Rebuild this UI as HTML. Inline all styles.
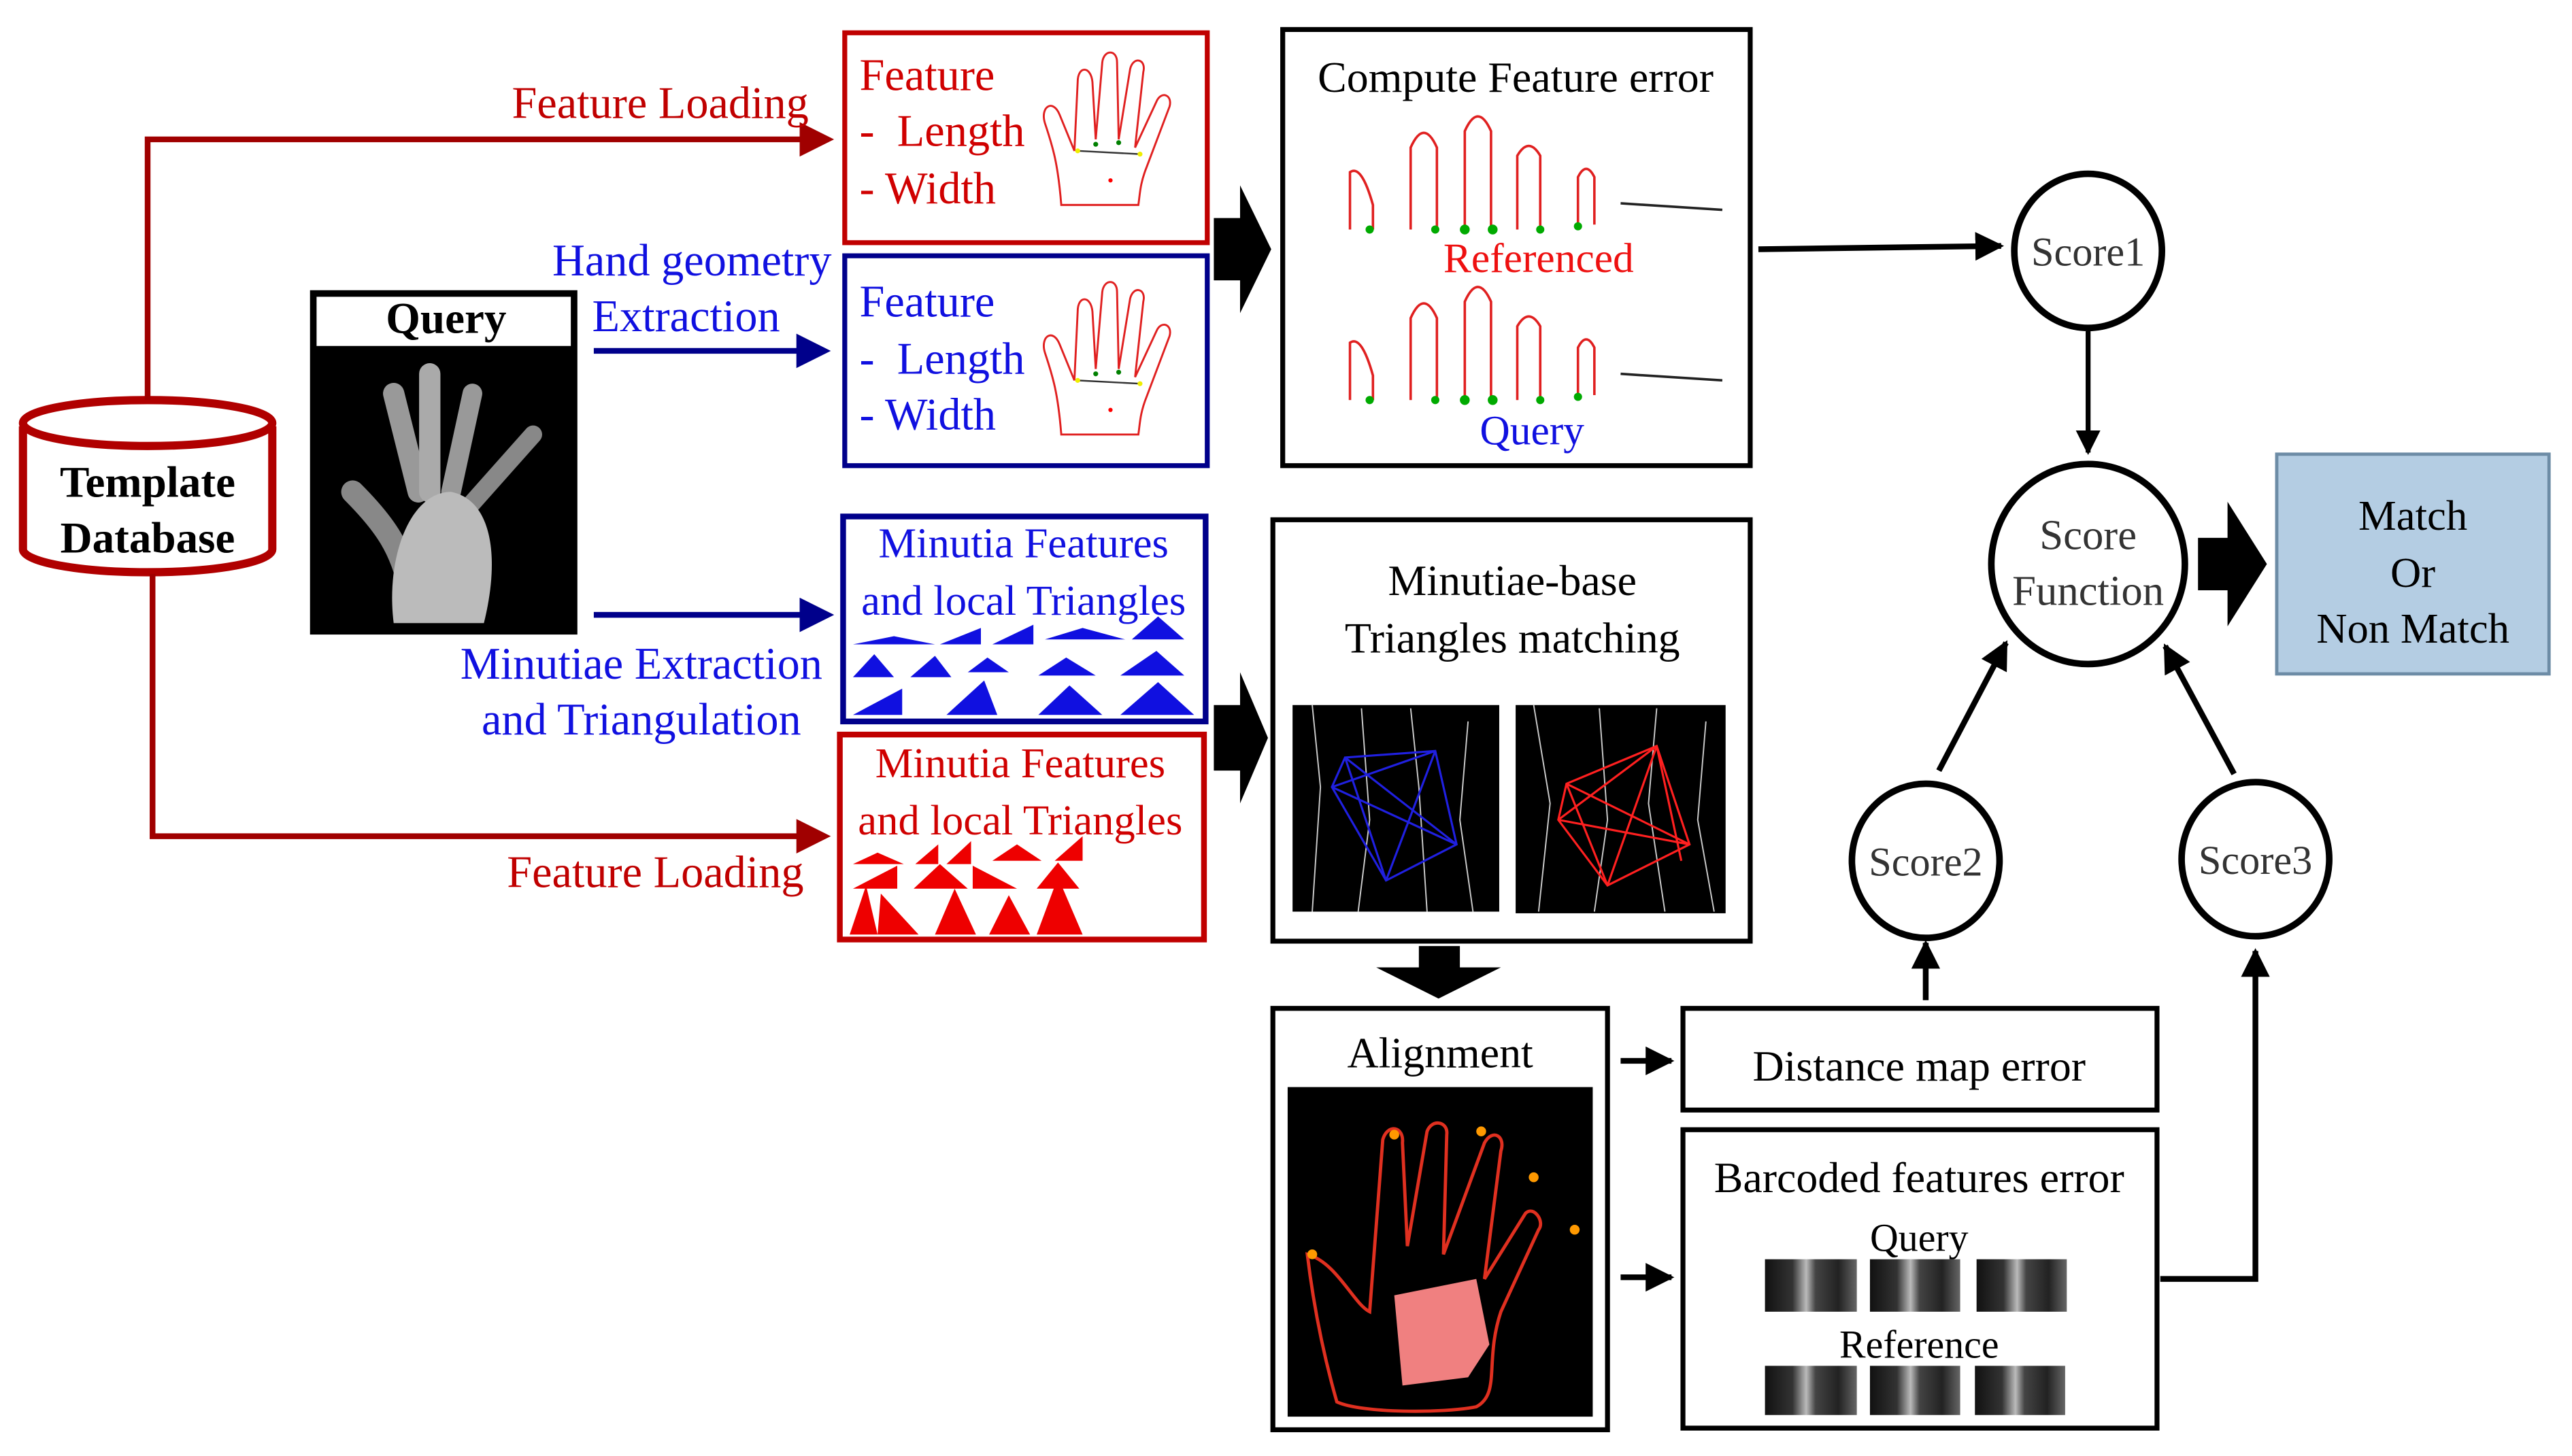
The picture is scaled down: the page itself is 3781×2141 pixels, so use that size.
<!DOCTYPE html>
<html><head><meta charset="utf-8"><style>
html,body{margin:0;padding:0;background:#fff;}
svg{display:block;}
text{font-family:"Liberation Serif",serif;}
</style></head><body>
<svg width="3781" height="2141" viewBox="0 0 1568 888" preserveAspectRatio="none" xmlns="http://www.w3.org/2000/svg">
<defs>
<marker id="ar" markerWidth="6" markerHeight="6" refX="5" refY="3" orient="auto" markerUnits="strokeWidth"><path d="M0,0 L6,3 L0,6 z" fill="#a00000"/></marker>
<marker id="ab" markerWidth="6" markerHeight="6" refX="5" refY="3" orient="auto" markerUnits="strokeWidth"><path d="M0,0 L6,3 L0,6 z" fill="#00008b"/></marker>
<marker id="ak" markerWidth="5" markerHeight="5" refX="4.5" refY="2.5" orient="auto" markerUnits="strokeWidth"><path d="M0,0 L5,2.5 L0,5 z" fill="#000"/></marker>
<g id="hand">
<path d="M10,95 C8,70 5,60 0,45 C-3,35 5,30 9,40 L18,62 L20,20 C20,10 28,10 29,20 L31,55 L35,8 C36,0 44,0 44,8 L45,55 L52,12 C54,4 62,6 60,14 L55,60 L68,32 C71,25 78,28 76,35 L62,72 C58,82 58,88 57,95 Z" fill="none" stroke="#e02020" stroke-width="1.2"/>
<path d="M20,62 L58,64" stroke="#333" stroke-width="1"/>
<circle cx="31" cy="58" r="1.5" fill="green"/><circle cx="45" cy="57" r="1.5" fill="green"/><circle cx="20" cy="62" r="1.5" fill="#ee0"/><circle cx="58" cy="64" r="1.5" fill="#ee0"/>
<circle cx="40" cy="80" r="1.3" fill="red"/>
</g>
</defs>

<path d="M14,260 L14,335 A76,14 0 0 0 166,335 L166,260" fill="#fff" stroke="#b00000" stroke-width="5"/>
<ellipse cx="90" cy="258" rx="76" ry="14" fill="#fff" stroke="#b00000" stroke-width="5"/>
<text x="90" y="303" font-size="27" font-weight="bold" text-anchor="middle">Template</text>
<text x="90" y="337" font-size="27" font-weight="bold" text-anchor="middle">Database</text>

<polyline points="90,244 90,85 505,85" fill="none" stroke="#a00000" stroke-width="3.5" marker-end="url(#ar)"/>
<text x="493" y="72" font-size="27.5" fill="#c00000" text-anchor="end">Feature Loading</text>
<polyline points="93,350 93,510 503,510" fill="none" stroke="#a00000" stroke-width="3.5" marker-end="url(#ar)"/>
<text x="490" y="541" font-size="27.5" fill="#c00000" text-anchor="end">Feature Loading</text>

<rect x="189" y="177" width="163" height="210" fill="#000"/>
<rect x="193" y="181" width="155" height="30" fill="#fff"/>
<text x="272" y="203" font-size="27" font-weight="bold" text-anchor="middle">Query</text>
<g fill="none" stroke-linecap="round">
<path d="M250,360 C245,335 235,320 215,300" stroke-width="14" stroke="#888"/>
<path d="M255,300 L240,240" stroke-width="13" stroke="#999"/>
<path d="M262,300 L262,228" stroke-width="13" stroke="#aaa"/>
<path d="M275,300 L288,240" stroke-width="12" stroke="#999"/>
<path d="M285,310 L325,265" stroke-width="11" stroke="#888"/>
<path d="M240,380 C235,340 250,300 275,300 C300,305 305,340 295,380" fill="#bbb" stroke="none"/>
</g>

<line x1="362" y1="214" x2="503" y2="214" stroke="#00008b" stroke-width="3.5" marker-end="url(#ab)"/>
<text x="507" y="168" font-size="27.5" fill="#1010e0" text-anchor="end">Hand geometry</text>
<text x="361" y="202" font-size="27.5" fill="#1010e0">Extraction</text>
<line x1="362" y1="375" x2="505" y2="375" stroke="#00008b" stroke-width="3.5" marker-end="url(#ab)"/>
<text x="391" y="414" font-size="27.5" fill="#1010e0" text-anchor="middle">Minutiae Extraction</text>
<text x="391" y="448" font-size="27.5" fill="#1010e0" text-anchor="middle">and Triangulation</text>

<rect x="515" y="20" width="221" height="128" fill="#fff" stroke="#c00000" stroke-width="3"/>
<text x="524" y="55" font-size="27.5" fill="#d00000">Feature</text>
<text x="524" y="89" font-size="27.5" fill="#d00000" xml:space="preserve">-  Length</text>
<text x="524" y="124" font-size="27.5" fill="#d00000">- Width</text>
<use href="#hand" x="637" y="30"/>
<rect x="515" y="156" width="221" height="128" fill="#fff" stroke="#00008b" stroke-width="3"/>
<text x="524" y="193" font-size="27.5" fill="#1010e0">Feature</text>
<text x="524" y="228" font-size="27.5" fill="#1010e0" xml:space="preserve">-  Length</text>
<text x="524" y="262" font-size="27.5" fill="#1010e0">- Width</text>
<use href="#hand" x="637" y="170"/>

<path d="M740,133 L756,133 L756,113 L775,152 L756,191 L756,171 L740,171 Z" fill="#000"/>
<path d="M740,430 L756,430 L756,410 L773,450 L756,490 L756,470 L740,470 Z" fill="#000"/>

<rect x="782" y="18" width="285" height="266" fill="#fff" stroke="#000" stroke-width="3"/>
<text x="924" y="56" font-size="26.5" text-anchor="middle">Compute Feature error</text>
<g fill="none" stroke="#e02020" stroke-width="1.5">
<path d="M823,140 L823,105 Q830,100 837,125 L837,140"/>
<path d="M860,140 L860,90 Q868,72 876,90 L876,140"/>
<path d="M893,140 L893,80 Q901,62 909,80 L909,140"/>
<path d="M925,140 L925,95 Q932,83 939,95 L939,140"/>
<path d="M962,137 L962,108 Q967,98 972,108 L972,137"/>
<path d="M823,244 L823,209 Q830,204 837,229 L837,244"/>
<path d="M860,244 L860,194 Q868,176 876,194 L876,244"/>
<path d="M893,244 L893,184 Q901,166 909,184 L909,244"/>
<path d="M925,244 L925,199 Q932,187 939,199 L939,244"/>
<path d="M962,241 L962,212 Q967,202 972,212 L972,241"/>
</g>
<g stroke="#222" stroke-width="1.5">
<line x1="988" y1="124" x2="1050" y2="128"/><line x1="988" y1="228" x2="1050" y2="232"/>
</g>
<g fill="#0a0">
<circle cx="835" cy="140" r="2.5"/><circle cx="875" cy="140" r="2.5"/><circle cx="893" cy="140" r="3"/><circle cx="910" cy="140" r="3"/><circle cx="939" cy="140" r="2.5"/><circle cx="962" cy="138" r="2.5"/>
<circle cx="835" cy="244" r="2.5"/><circle cx="875" cy="244" r="2.5"/><circle cx="893" cy="244" r="3"/><circle cx="910" cy="244" r="3"/><circle cx="939" cy="244" r="2.5"/><circle cx="962" cy="242" r="2.5"/>
</g>
<text x="938" y="166" font-size="25.5" fill="#ee1010" text-anchor="middle">Referenced</text>
<text x="934" y="271" font-size="25.5" fill="#1010e0" text-anchor="middle">Query</text>

<line x1="1072" y1="152" x2="1220" y2="150" stroke="#000" stroke-width="3.5" marker-end="url(#ak)"/>

<ellipse cx="1273" cy="153" rx="45" ry="47" fill="#fff" stroke="#000" stroke-width="4"/>
<text x="1273" y="162" font-size="25" fill="#333" text-anchor="middle">Score1</text>
<line x1="1273" y1="202" x2="1273" y2="276" stroke="#000" stroke-width="3" marker-end="url(#ak)"/>
<ellipse cx="1273" cy="344" rx="59" ry="61" fill="#fff" stroke="#000" stroke-width="4"/>
<text x="1273" y="335" font-size="26" fill="#333" text-anchor="middle">Score</text>
<text x="1273" y="369" font-size="26" fill="#333" text-anchor="middle">Function</text>
<path d="M1340,328 L1358,328 L1358,306 L1382,344 L1358,382 L1358,360 L1340,360 Z" fill="#000"/>
<rect x="1388" y="277" width="166" height="134" fill="#b4cde3" stroke="#6d8ca6" stroke-width="2"/>
<text x="1471" y="323" font-size="26" text-anchor="middle">Match</text>
<text x="1471" y="358" font-size="26" text-anchor="middle">Or</text>
<text x="1471" y="392" font-size="26" text-anchor="middle">Non Match</text>

<ellipse cx="1174" cy="525" rx="45" ry="47" fill="#fff" stroke="#000" stroke-width="4"/>
<text x="1174" y="534" font-size="25" fill="#333" text-anchor="middle">Score2</text>
<ellipse cx="1375" cy="524" rx="45" ry="47" fill="#fff" stroke="#000" stroke-width="4"/>
<text x="1375" y="533" font-size="25" fill="#333" text-anchor="middle">Score3</text>
<line x1="1182" y1="470" x2="1223" y2="392" stroke="#000" stroke-width="3.5" marker-end="url(#ak)"/>
<line x1="1362" y1="472" x2="1320" y2="394" stroke="#000" stroke-width="3.5" marker-end="url(#ak)"/>
<line x1="1174" y1="610" x2="1174" y2="575" stroke="#000" stroke-width="3.5" marker-end="url(#ak)"/>
<polyline points="1317,780 1375,780 1375,580" fill="none" stroke="#000" stroke-width="3.5" marker-end="url(#ak)"/>

<rect x="514" y="315" width="221" height="125" fill="#fff" stroke="#00008b" stroke-width="3.5"/>
<text x="624" y="340" font-size="26" fill="#1010e0" text-anchor="middle">Minutia Features</text>
<text x="624" y="375" font-size="26" fill="#1010e0" text-anchor="middle">and local Triangles</text>
<g fill="#1010e0">
<polygon points="520,393 545,388 570,393"/><polygon points="573,393 598,383 598,393"/><polygon points="605,393 630,381 630,393"/><polygon points="637,390 660,383 686,390"/><polygon points="690,390 706,376 722,390"/>
<polygon points="520,413 533,399 545,413"/><polygon points="555,413 570,400 580,413"/><polygon points="590,410 602,401 615,410"/><polygon points="633,412 650,401 668,412"/><polygon points="683,412 705,397 722,412"/>
<polygon points="520,436 550,420 550,436"/><polygon points="577,436 600,415 608,436"/><polygon points="633,436 652,418 672,436"/><polygon points="683,436 706,416 728,436"/>
</g>
<rect x="512" y="448" width="222" height="125" fill="#fff" stroke="#c00000" stroke-width="3.5"/>
<text x="622" y="474" font-size="26" fill="#d00000" text-anchor="middle">Minutia Features</text>
<text x="622" y="509" font-size="26" fill="#d00000" text-anchor="middle">and local Triangles</text>
<g fill="#ee0000">
<polygon points="520,527 535,520 551,527"/><polygon points="558,527 572,515 572,527"/><polygon points="577,527 592,513 592,527"/><polygon points="605,525 620,515 635,525"/><polygon points="643,525 660,510 660,525"/>
<polygon points="520,542 547,528 547,542"/><polygon points="557,542 573,527 590,542"/><polygon points="593,542 593,528 620,542"/><polygon points="632,542 645,526 658,542"/>
<polygon points="518,570 528,540 535,570"/><polygon points="535,570 537,545 560,570"/><polygon points="570,570 582,542 595,570"/><polygon points="603,570 615,546 628,570"/><polygon points="632,570 645,535 660,570"/>
</g>

<rect x="776" y="317" width="291" height="257" fill="#fff" stroke="#000" stroke-width="3"/>
<text x="922" y="363" font-size="26.5" text-anchor="middle">Minutiae-base</text>
<text x="922" y="398" font-size="26.5" text-anchor="middle">Triangles matching</text>
<rect x="788" y="430" width="126" height="126" fill="#000"/>
<rect x="924" y="430" width="128" height="127" fill="#000"/>
<g stroke="#ccc" stroke-width="0.8" fill="none">
<path d="M800,430 L805,480 L800,556 M830,432 L835,500 L828,556 M860,432 L865,480 L870,556 M895,440 L890,500 L898,556"/>
<path d="M935,430 L945,490 L938,556 M975,432 L980,500 L972,556 M1010,432 L1005,490 L1015,556 M1040,440 L1035,500 L1045,556"/>
</g>
<g stroke="#2020e0" stroke-width="1.3" fill="none">
<polygon points="820,462 875,458 888,515 845,537 812,480"/><path d="M820,462 L888,515 M875,458 L812,480 M875,458 L845,537 M820,462 L845,537 M812,480 L888,515"/>
</g>
<g stroke="#ff2020" stroke-width="1.3" fill="none">
<polygon points="955,478 1010,455 1030,515 980,540 950,500"/><path d="M955,478 L1030,515 M1010,455 L950,500 M1010,455 L980,540 M955,478 L980,540 M950,500 L1030,515 M1010,455 L1025,525"/>
</g>

<path d="M865,577 L890,577 L890,590 L915,590 L877,609 L839,590 L865,590 Z" fill="#000"/>

<rect x="776" y="615" width="204" height="257" fill="#fff" stroke="#000" stroke-width="3"/>
<text x="878" y="651" font-size="26.5" text-anchor="middle">Alignment</text>
<rect x="785" y="663" width="186" height="201" fill="#000"/>
<path d="M815,855 C805,820 800,790 797,765 C815,770 825,795 835,800 L843,695 C846,685 856,687 855,697 L858,760 L870,690 C873,682 883,684 882,692 L880,765 L905,697 C910,688 918,693 915,702 L905,780 L930,740 C935,735 942,745 938,750 L915,800 C905,830 915,850 900,858 C880,862 830,862 815,855 Z" fill="none" stroke="#e03020" stroke-width="2"/>
<path d="M850,790 L900,780 L908,820 L895,840 L855,845 Z" fill="#f08080"/>
<g fill="#ff9900"><circle cx="850" cy="692" r="3"/><circle cx="903" cy="690" r="3"/><circle cx="935" cy="718" r="3"/><circle cx="800" cy="765" r="3"/><circle cx="960" cy="750" r="3"/></g>

<line x1="988" y1="647" x2="1019" y2="647" stroke="#000" stroke-width="3.5" marker-end="url(#ak)"/>
<line x1="988" y1="779" x2="1019" y2="779" stroke="#000" stroke-width="3.5" marker-end="url(#ak)"/>

<rect x="1026" y="615" width="289" height="62" fill="#fff" stroke="#000" stroke-width="3"/>
<text x="1170" y="659" font-size="26.5" text-anchor="middle">Distance map error</text>
<rect x="1026" y="689" width="289" height="182" fill="#fff" stroke="#000" stroke-width="3"/>
<text x="1170" y="727" font-size="26.5" text-anchor="middle">Barcoded features error</text>
<text x="1170" y="763" font-size="24" text-anchor="middle">Query</text>
<text x="1170" y="828" font-size="24" text-anchor="middle">Reference</text>
<defs><linearGradient id="bc" x1="0" x2="1">
<stop offset="0" stop-color="#111"/><stop offset="0.3" stop-color="#333"/><stop offset="0.45" stop-color="#bbb"/><stop offset="0.55" stop-color="#444"/><stop offset="0.8" stop-color="#222"/><stop offset="1" stop-color="#666"/></linearGradient></defs>
<g fill="url(#bc)">
<rect x="1076" y="768" width="56" height="32"/><rect x="1140" y="768" width="55" height="32"/><rect x="1205" y="768" width="55" height="32"/>
<rect x="1076" y="833" width="56" height="30"/><rect x="1140" y="833" width="55" height="30"/><rect x="1204" y="833" width="55" height="30"/>
</g>
</svg>
</body></html>
